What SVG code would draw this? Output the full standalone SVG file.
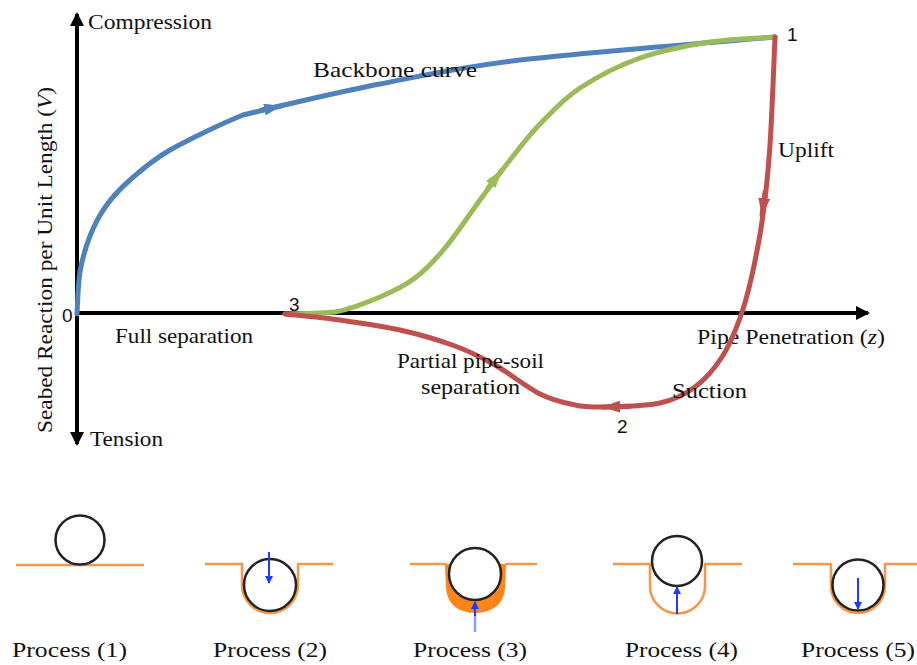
<svg xmlns="http://www.w3.org/2000/svg" width="917" height="665" viewBox="0 0 917 665">
  <style>
    .lbl { font-family: "Liberation Serif", "DejaVu Serif", serif; font-size: 21px; fill: #111; }
    .num { font-family: "Liberation Sans", Arial, sans-serif; font-size: 19px; fill: #111; }
    .proc { font-family: "Liberation Serif", "DejaVu Serif", serif; font-size: 22px; fill: #111; }
    .axis { stroke: #000; stroke-width: 4; fill: none; }
    .curve { fill: none; stroke-width: 5; stroke-linecap: round; stroke-linejoin: round; }
    .soil { fill: none; stroke: #F79646; stroke-width: 2.5; }
    .pipe { fill: #fff; stroke: #222; stroke-width: 2.5; }
    .force { stroke: #1E3CFF; stroke-width: 2; fill: none; }
  </style>
  <defs>
    <marker id="ahAxis" markerUnits="userSpaceOnUse" viewBox="0 0 14 14" markerWidth="14" markerHeight="14" refX="12" refY="7" orient="auto">
      <path d="M0,0 L14,7 L0,14 Z" fill="#000"/>
    </marker>
    <marker id="ahBlue" markerUnits="userSpaceOnUse" viewBox="0 0 18 12" markerWidth="18" markerHeight="12" refX="17" refY="6" orient="auto">
      <path d="M0,0 L18,6 L0,12 Z" fill="#4F81BD"/>
    </marker>
    <marker id="ahGreen" markerUnits="userSpaceOnUse" viewBox="0 0 18 12" markerWidth="18" markerHeight="12" refX="17" refY="6" orient="auto">
      <path d="M0,0 L18,6 L0,12 Z" fill="#9BBB59"/>
    </marker>
    <marker id="ahRed" markerUnits="userSpaceOnUse" viewBox="0 0 18 12" markerWidth="18" markerHeight="12" refX="17" refY="6" orient="auto">
      <path d="M0,0 L18,6 L0,12 Z" fill="#C0504D"/>
    </marker>
    <marker id="ahForce" markerUnits="userSpaceOnUse" viewBox="0 0 8 8" markerWidth="8" markerHeight="8" refX="7" refY="4" orient="auto">
      <path d="M0,0 L8,4 L0,8 Z" fill="#1E3CFF"/>
    </marker>
  </defs>

  <!-- axes -->
  <g id="axes">
    <path class="axis" d="M77,314 L77,14" marker-end="url(#ahAxis)"/>
    <path class="axis" d="M77,314 L77,444" marker-end="url(#ahAxis)"/>
    <path class="axis" d="M77,313 L868,313" marker-end="url(#ahAxis)"/>
    <text class="lbl" x="88" y="29" textLength="124" lengthAdjust="spacingAndGlyphs">Compression</text>
    <text class="lbl" x="90" y="446" textLength="73" lengthAdjust="spacingAndGlyphs">Tension</text>
    <text class="lbl" transform="translate(52,433) rotate(-90)" x="0" y="0" textLength="346" lengthAdjust="spacingAndGlyphs">Seabed Reaction per Unit Length (<tspan font-style="italic">V</tspan>)</text>
    <text class="lbl" x="697" y="344" textLength="188" lengthAdjust="spacingAndGlyphs">Pipe Penetration (<tspan font-style="italic">z</tspan>)</text>
    <text class="num" x="62" y="322">0</text>
  </g>

  <!-- connectors: load-displacement paths -->
  <g id="connectors">
    <path id="backbone" class="curve" stroke="#4F81BD" d="M77,314 C77.5,307 77.8,285 80,272 C82.2,259 85.7,247 90,236 C94.3,225 99.3,215.3 106,206 C112.7,196.7 119.3,189.3 130,180 C140.7,170.7 151.2,160.8 170,150 C188.8,139.2 224.7,122.3 243,115 L280,106 C302.8,100.8 340,91.7 380,84 C420,76.3 454.2,67.8 520,60 C585.8,52.2 732.5,40.8 775,37"/>
    <path class="curve" stroke="#4F81BD" d="M262,110 L281,106" marker-end="url(#ahBlue)"/>

    <path id="reload" class="curve" stroke="#9BBB59" d="M285,314 C293.3,313.7 320,313.5 335,312 C350.8,309.2 366.7,302.7 380,297 C393.3,291.3 404.2,286.2 415,278 C425.8,269.8 434.2,261 445,248 C455.8,235 469.2,214.7 480,200 C490.8,185.3 500,172.7 510,160 C520,147.3 528.3,136 540,124 C551.7,112 563.3,99 580,88 C596.7,77 618.3,65.7 640,58 C661.7,50.3 687.5,45.5 710,42 C732.5,38.5 764.2,37.8 775,37"/>
    <path class="curve" stroke="#9BBB59" d="M488,188 L501,171" marker-end="url(#ahGreen)"/>

    <path id="unload" class="curve" stroke="#C0504D" d="M775,37 C774.2,55 772,115.3 770,145 C768,174.7 766,193.3 763,215 C760,236.7 755.8,257.8 752,275 C748.2,292.2 745,304.3 740,318 C735,331.7 729.5,345.5 722,357 C714.5,368.5 705.3,379.3 695,387 C684.7,394.7 675,399.7 660,403 C645,406.3 619.2,406.7 605,407 C590.8,407.3 585.8,407.2 575,405 C564.2,402.8 553.3,400.7 540,394 C526.7,387.3 509.2,373 495,365 C480.8,357 470.8,351.8 455,346 C439.2,340.2 419.2,334.3 400,330 C380.8,325.7 359.2,322.7 340,320 C320.8,317.3 294.2,315 285,314"/>
    <path class="curve" stroke="#C0504D" d="M765,192 L762,215" marker-end="url(#ahRed)"/>
    <path class="curve" stroke="#C0504D" d="M628,406.5 L603,407" marker-end="url(#ahRed)"/>
  </g>

  <!-- curve labels and state points -->
  <g id="labels">
    <text class="lbl" x="313" y="77" textLength="164" lengthAdjust="spacingAndGlyphs">Backbone curve</text>
    <text class="lbl" x="778" y="157" textLength="56" lengthAdjust="spacingAndGlyphs">Uplift</text>
    <text class="lbl" x="672" y="398" textLength="75" lengthAdjust="spacingAndGlyphs">Suction</text>
    <text class="lbl" x="115" y="343" textLength="138" lengthAdjust="spacingAndGlyphs">Full separation</text>
    <text class="lbl" x="397" y="368" textLength="147" lengthAdjust="spacingAndGlyphs">Partial pipe-soil</text>
    <text class="lbl" x="421" y="394" textLength="99" lengthAdjust="spacingAndGlyphs">separation</text>
    <text class="num" x="787" y="41">1</text>
    <text class="num" x="617" y="433">2</text>
    <text class="num" x="289" y="311">3</text>
  </g>

  <!-- pipe-soil interaction sketches -->
  <g id="process1">
    <line class="soil" x1="16" y1="565" x2="144" y2="565"/>
    <circle class="pipe" cx="80" cy="540" r="24.5"/>
    <text class="proc" x="12" y="657" textLength="115" lengthAdjust="spacingAndGlyphs">Process (1)</text>
  </g>

  <g id="process2">
    <path class="soil" d="M205,564 L242,564 L242,585 A28,28 0 0 0 298,585 L298,564 L333,564"/>
    <circle class="pipe" cx="270" cy="585" r="26"/>
    <path class="force" d="M269,552 L269,583" marker-end="url(#ahForce)"/>
    <text class="proc" x="213" y="657" textLength="114" lengthAdjust="spacingAndGlyphs">Process (2)</text>
  </g>

  <g id="process3">
    <path d="M445,564 L446,588 Q448,612 475,613 Q503,612 505,588 L506,564 Z" fill="#FF8419"/>
    <path class="soil" d="M410,564 L446,564 M505,564 L537,564"/>
    <circle class="pipe" cx="475" cy="574" r="26"/>
    <line x1="475" y1="632" x2="475" y2="612" stroke="#8C9CFF" stroke-width="2.5"/>
    <path class="force" d="M475,616 L475,602" marker-end="url(#ahForce)"/>
    <text class="proc" x="413" y="657" textLength="114" lengthAdjust="spacingAndGlyphs">Process (3)</text>
  </g>

  <g id="process4">
    <path class="soil" d="M613,564 L650,564 L650,586 A27.5,27.5 0 0 0 705,586 L705,564 L742,564"/>
    <circle class="pipe" cx="677" cy="561" r="25"/>
    <path class="force" d="M677,614 L677,587" marker-end="url(#ahForce)"/>
    <text class="proc" x="625" y="657" textLength="113" lengthAdjust="spacingAndGlyphs">Process (4)</text>
  </g>

  <g id="process5">
    <path class="soil" d="M793,564 L831,564 L831,586 A27,27 0 0 0 885,586 L885,564 L917,564"/>
    <circle class="pipe" cx="858" cy="585" r="25.5"/>
    <path class="force" d="M858,578 L858,609" marker-end="url(#ahForce)"/>
    <text class="proc" x="801" y="657" textLength="114" lengthAdjust="spacingAndGlyphs">Process (5)</text>
  </g>
</svg>
